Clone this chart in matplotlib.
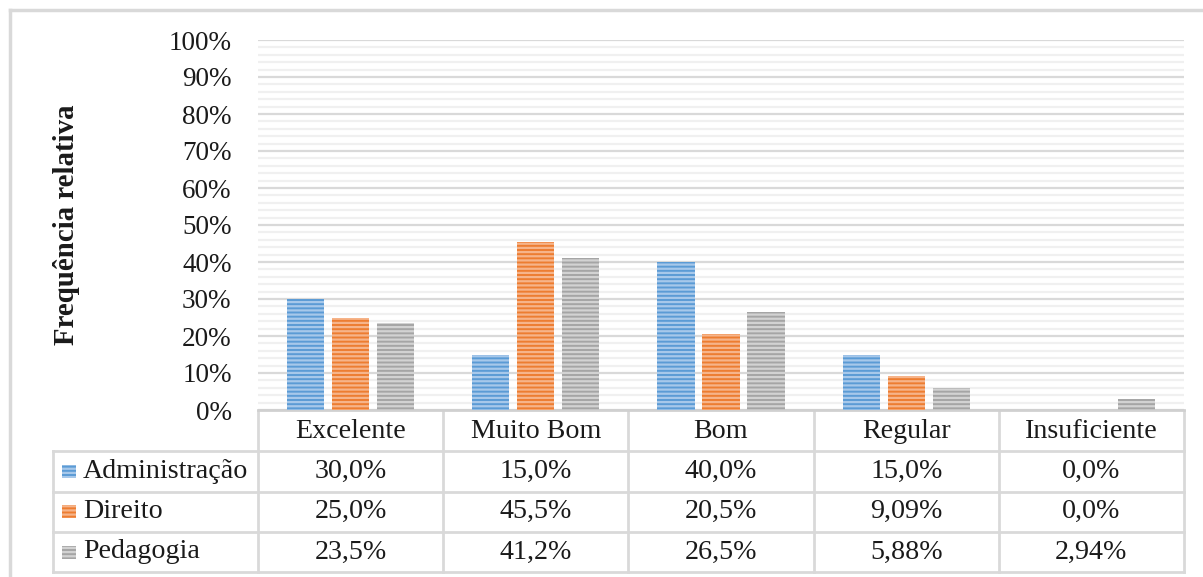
import matplotlib
matplotlib.use("Agg")
import matplotlib.pyplot as plt
from matplotlib.patches import Rectangle
from matplotlib.lines import Line2D
import numpy as np

categories = ["Excelente", "Muito Bom", "Bom", "Regular", "Insuficiente"]
series_names = ["Administração", "Direito", "Pedagogia"]
administracao = [30.0, 15.0, 40.0, 15.0, 0.0]
direito = [25.0, 45.5, 20.5, 9.09, 0.0]
pedagogia = [23.5, 41.2, 26.5, 5.88, 2.94]
table_labels = [
    ["30,0%", "15,0%", "40,0%", "15,0%", "0,0%"],
    ["25,0%", "45,5%", "20,5%", "9,09%", "0,0%"],
    ["23,5%", "41,2%", "26,5%", "5,88%", "2,94%"],
]
y_ticks = [0, 10, 20, 30, 40, 50, 60, 70, 80, 90, 100]
y_label = "Frequência relativa"

face_colors = ["#5b9bd5", "#ed7d31", "#a5a5a5"]
hatch_colors = ["#a7c8ea", "#f6b48a", "#d2d2d2"]

plt.rcParams["font.family"] = ["Liberation Serif", "DejaVu Serif"]
plt.rcParams["hatch.linewidth"] = 1.6

W, H = 1203, 577
fig = plt.figure(figsize=(W / 100, H / 100), dpi=100)

# axes placement in pixel terms
AX_L, AX_R, AX_T, AX_B = 258, 1184, 40, 410
ax = fig.add_axes([AX_L / W, 1 - AX_B / H, (AX_R - AX_L) / W, (AX_B - AX_T) / H])

def px2ax(px, py):
    return (px - AX_L) / (AX_R - AX_L), (AX_B - py) / (AX_B - AX_T)

n = len(categories)
x = np.arange(n)
width = 0.2
offset = 0.243
series = [administracao, direito, pedagogia]
for i, vals in enumerate(series):
    ax.bar(x + (i - 1) * offset, vals, width, color=face_colors[i],
           edgecolor=hatch_colors[i], linewidth=0, hatch="----", zorder=3)

ax.set_xlim(-0.5, n - 0.5)
ax.set_ylim(0, 100)
ax.set_yticks(y_ticks)
ax.set_yticklabels([f"{v}%" for v in y_ticks], fontsize=19.5, color="#1a1a1a")
ax.set_yticks(np.arange(0, 101, 2), minor=True)
ax.tick_params(axis="y", which="both", length=0, pad=19)
ax.tick_params(axis="x", which="both", length=0, labelbottom=False)
ax.grid(axis="y", which="minor", color="#f0f0f0", linewidth=1.6, zorder=0)
ax.grid(axis="y", which="major", color="#d9d9d9", linewidth=1.6, zorder=1)
for s in ["top", "right", "left"]:
    ax.spines[s].set_visible(False)
ax.spines["bottom"].set_color("#d0d0d0")
ax.spines["bottom"].set_linewidth(2)

fig.text(67 / W, 1 - 225 / H, y_label, rotation=90, ha="center", va="center",
         fontsize=20.8, fontweight="bold", color="#1a1a1a")

# ---- data table ----
lc = "#d9d9d9"
lw = 2
TABLE_L = 53
row_edges = [411, 451, 491.5, 532, 572]
col_edges = [AX_L + (AX_R - AX_L) * k / n for k in range(n + 1)]

def hline(y, x0, x1):
    a0 = px2ax(x0, y); a1 = px2ax(x1, y)
    ax.add_line(Line2D([a0[0], a1[0]], [a0[1], a1[1]], transform=ax.transAxes,
                       color=lc, linewidth=lw, clip_on=False))

def vline(xp, y0, y1):
    a0 = px2ax(xp, y0); a1 = px2ax(xp, y1)
    ax.add_line(Line2D([a0[0], a1[0]], [a0[1], a1[1]], transform=ax.transAxes,
                       color=lc, linewidth=lw, clip_on=False))

for r in range(1, len(row_edges)):
    hline(row_edges[r], TABLE_L, AX_R)
for c in col_edges:
    vline(c, row_edges[0], row_edges[-1])
vline(TABLE_L, row_edges[1], row_edges[-1])

fs = 20.2
for j, cat in enumerate(categories):
    cx = (col_edges[j] + col_edges[j + 1]) / 2
    cy = (row_edges[0] + row_edges[1]) / 2 + 1
    ax.text(*px2ax(cx, cy), cat, transform=ax.transAxes, ha="center", va="center",
            fontsize=fs, color="#1a1a1a", clip_on=False)

for i, name in enumerate(series_names):
    cy = (row_edges[i + 1] + row_edges[i + 2]) / 2
    sx0, sy0 = px2ax(62, cy + 6.5)
    sx1, sy1 = px2ax(76, cy - 6.5)
    ax.add_patch(Rectangle((sx0, sy0), sx1 - sx0, sy1 - sy0, transform=ax.transAxes,
                           facecolor=face_colors[i], edgecolor=hatch_colors[i],
                           linewidth=0, hatch="----", clip_on=False))
    ax.text(*px2ax(83, cy), name, transform=ax.transAxes, ha="left", va="center",
            fontsize=fs, color="#1a1a1a", clip_on=False)
    for j in range(n):
        cx = (col_edges[j] + col_edges[j + 1]) / 2
        ax.text(*px2ax(cx, cy), table_labels[i][j], transform=ax.transAxes,
                ha="center", va="center", fontsize=fs, color="#1a1a1a", clip_on=False)

# outer chart border (partially visible)
fig.add_artist(Line2D([9.5 / W, 9.5 / W], [0, 1 - 10 / H], transform=fig.transFigure,
                      color="#d9d9d9", linewidth=2.5))
fig.add_artist(Line2D([9.5 / W, 1], [1 - 10 / H, 1 - 10 / H], transform=fig.transFigure,
                      color="#d9d9d9", linewidth=2.5))

fig.savefig("out.png", dpi=100)
